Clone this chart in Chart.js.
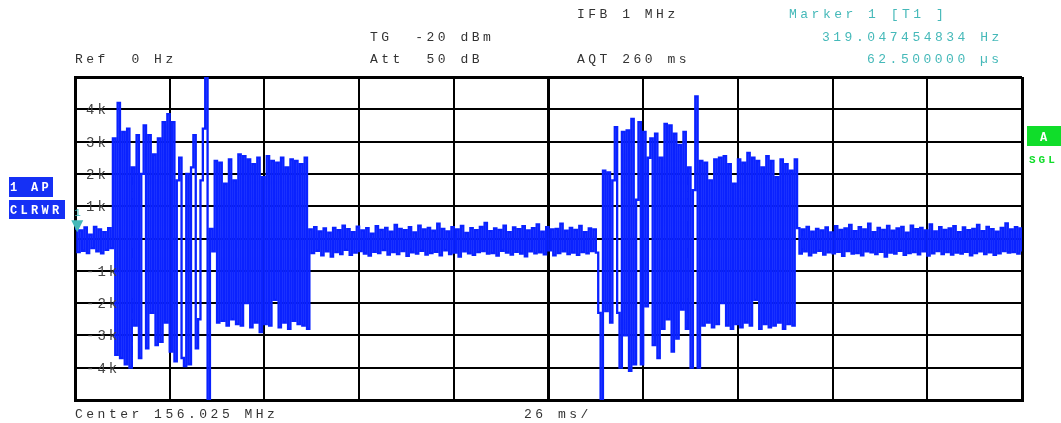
<!DOCTYPE html>
<html>
<head>
<meta charset="utf-8">
<title>Trace</title>
<script src="https://cdn.jsdelivr.net/npm/chart.js@4.4.1/dist/chart.umd.min.js"></script>
<style>
    html, body { margin: 0; padding: 0; background: #fff; }
    canvas { display: block; }
</style>
</head>
<body>
<canvas id="traceChart" width="1061" height="423"></canvas>
<script>
// Axe temps : 0 à 260 ms, un échantillon toutes les 0.65 ms
const sweepMs = 260;
const sampleStepMs = 0.65;
const xTickStepMs = 26;

// Valeurs (Hz), par segment
const noiseLead = [300, -420, 250, -380, 340, -450, 120, -300, 360, -400, 280, -460, 200, -350, 320, -300];

const burstOneA = [
    3100, -3600, 4200, -3700, 3300, -3900, 3400, -4000, 2200, -2700,
    3200, -3700, 2000, 3500, -3400, 3200, -2300, 2600, -3300, 3100,
    -3200, 3600, -2600, 3850, -3500, 3600, -3800, 1800, 2500, -3700,
    -3950, 2000, -3900, 2200, 3200, -3400, -2500, 1800, 3400, 5200,
    -5200
];

const burstOneB = [
    300, -400,
    2400, -2600, 2350, -2550, 1700, -2700, 2450, -2500, 1800, -2650,
    2600, -2700, 2550, -2000, 2450, -2750, 2300, -2600, 2500, -2900,
    1900, -2650, 2550, -2700, 2400, -1900, 2350, -2750, 2500, -2600,
    2200, -2800, 2450, -2550, 2400, -2650, 2300, -2700, 2500, -2800
];

const noiseMid = [
    280, -450, 350, -380, 220, -520, 310, -400, 180, -560,
    330, -420, 260, -480, 400, -350, 290, -510, 200, -440,
    370, -390, 250, -470, 320, -530, 150, -410, 380, -450,
    270, -360, 330, -500, 210, -420, 420, -480, 300, -390,
    260, -540, 350, -430, 190, -470, 400, -380, 280, -500,
    330, -450, 240, -410, 460, -520, 300, -370, 220, -480,
    350, -440, 280, -560, 390, -400, 170, -460, 320, -510,
    260, -420, 360, -390, 480, -470, 230, -450, 310, -530,
    270, -380, 400, -440, 200, -500, 340, -410, 290, -470,
    380, -550, 250, -400, 320, -460, 440, -430, 210, -490,
    350, -370, 280, -520, 300, -450, 460, -400, 240, -480,
    330, -440, 270, -510, 390, -420, 200, -460, 310, -390,
    280, -440
];

const burstTwoA = [
    -2300, -5200, 2100, -2250, 2050, -2600, 1800, 3450, -2300, -4000,
    3300, -3000, 3350, -4100, 3700, -3900, 1200, 3600, -3900, 3300,
    -2100, 2500, 3100, -3300, 3250, -3700, 2500, -2800, 3550, -2500,
    3500, -3500, 3250, -3100, 2900, -2200, 3300, -2800, 2200, -4000,
    1500, 4400, -4000
];

const burstTwoB = [
    2400, -2700, 2350, -2600, 1800, -2750, 2450, -2650, 2500, -2000,
    2550, -2700, 2300, -2800, 1700, -2650, 2450, -2750, 2350, -2600,
    2650, -2700, 2500, -1900, 2400, -2800, 2200, -2650, 2550, -2750,
    2400, -2700, 1900, -2600, 2450, -2800, 2300, -2650, 2100, -2700,
    2450
];

const noiseTail = [
    320, -470, 280, -400, 360, -520, 210, -440, 300, -380,
    250, -500, 340, -430, 190, -460, 380, -410, 270, -540,
    310, -390, 420, -470, 230, -450, 350, -520, 280, -400,
    460, -430, 200, -480, 330, -410, 270, -560, 390, -440,
    240, -470, 310, -380, 360, -510, 180, -450, 400, -420,
    290, -490, 330, -400, 250, -530, 440, -460, 220, -390,
    350, -480, 270, -420, 310, -500, 380, -440, 200, -470,
    340, -410, 260, -520, 300, -450, 420, -400, 230, -480,
    360, -430, 290, -510, 210, -460, 330, -390, 470, -440,
    280, -420, 350, -470, 310, -400
];

// Graduations de l'axe vertical
const yTickValues = [4000, 3000, 2000, 1000, -1000, -2000, -3000, -4000];
const yTickLabels = ['4k', '3k', '2k', '1k', '-1k', '-2k', '-3k', '-4k'];

// Marqueur 1
const markerTimeMs = 0.0625;
const markerValueHz = 319;

const traceValues = [].concat(noiseLead, burstOneA, burstOneB, noiseMid, burstTwoA, burstTwoB, noiseTail);
const tracePoints = traceValues.map((v, i) => ({ x: i * sampleStepMs, y: v }));

const TEXT_FONT = '13px "Liberation Mono", "DejaVu Sans Mono", monospace';
const TEAL = '#45b9b9';

function drawSpaced(ctx, text, x, y, font, color, spacing) {
    ctx.font = font;
    ctx.fillStyle = color;
    ctx.letterSpacing = spacing;
    ctx.textBaseline = 'alphabetic';
    ctx.textAlign = 'left';
    ctx.fillText(text, x, y);
    ctx.letterSpacing = '0px';
}

// Textes de l'analyseur autour de la grille
const overlayPlugin = {
    id: 'overlay',
    afterDraw(chart) {
        const ctx = chart.ctx;
        const yScale = chart.scales.y;
        const xScale = chart.scales.x;
        ctx.save();

        // en-tête
        drawSpaced(ctx, 'IFB 1 MHz', 577, 18, TEXT_FONT, '#333', '3.5px');
        drawSpaced(ctx, 'Marker 1 [T1 ]', 789, 18, TEXT_FONT, TEAL, '3.5px');
        drawSpaced(ctx, 'TG  -20 dBm', 370, 41, TEXT_FONT, '#333', '3.5px');
        drawSpaced(ctx, '319.047454834 Hz', 822, 41, TEXT_FONT, TEAL, '3.5px');
        drawSpaced(ctx, 'Ref  0 Hz', 75, 63, TEXT_FONT, '#333', '3.5px');
        drawSpaced(ctx, 'Att  50 dB', 370, 63, TEXT_FONT, '#333', '3.5px');
        drawSpaced(ctx, 'AQT 260 ms', 577, 63, TEXT_FONT, '#333', '3.5px');
        drawSpaced(ctx, '62.500000 \u00b5s', 867, 63, TEXT_FONT, TEAL, '3.5px');

        // pied
        drawSpaced(ctx, 'Center 156.025 MHz', 75, 418, TEXT_FONT, '#333', '3.5px');
        drawSpaced(ctx, '26 ms/', 524, 418, TEXT_FONT, '#333', '3.5px');

        // graduations verticales dans la grille
        yTickValues.forEach((v, i) => {
            const py = yScale.getPixelForValue(v);
            drawSpaced(ctx, yTickLabels[i], 86, py + 5, '14px "Liberation Mono", monospace', '#444', '3px');
        });

        // étiquettes de trace à gauche
        ctx.fillStyle = '#1530f5';
        ctx.fillRect(9, 177, 44, 20);
        ctx.fillRect(9, 200, 56, 19);
        const badgeFont = 'bold 12px "Liberation Mono", monospace';
        drawSpaced(ctx, '1 AP', 10, 191, badgeFont, '#fff', '3.3px');
        drawSpaced(ctx, 'CLRWR', 10, 214, badgeFont, '#fff', '3.3px');

        // état à droite
        ctx.fillStyle = '#10dd2a';
        ctx.fillRect(1027, 126, 34, 20);
        drawSpaced(ctx, 'A', 1040, 141, 'bold 12px "Liberation Mono", monospace', '#fff', '0px');
        drawSpaced(ctx, 'SGL', 1029, 163, 'bold 11px "Liberation Mono", monospace', '#10dd2a', '3px');

        // marqueur 1
        const mx = xScale.getPixelForValue(markerTimeMs) + 2;
        const my = yScale.getPixelForValue(markerValueHz) + 4;
        ctx.fillStyle = TEAL;
        ctx.beginPath();
        ctx.moveTo(mx - 6, my - 12);
        ctx.lineTo(mx + 6, my - 12);
        ctx.lineTo(mx, my);
        ctx.closePath();
        ctx.fill();
        drawSpaced(ctx, '1', mx - 3, my - 16, '11px "Liberation Mono", monospace', TEAL, '0px');

        ctx.restore();
    }
};

function gridWidth(ctx, edges, thick) {
    const v = ctx.tick ? ctx.tick.value : null;
    if (edges.includes(v)) return 3;
    if (v === thick) return 3;
    return 2;
}

new Chart(document.getElementById('traceChart'), {
    type: 'line',
    data: {
        datasets: [{
            data: tracePoints,
            borderColor: '#0a22ff',
            borderWidth: 2.3,
            pointRadius: 0,
            stepped: true,
            fill: false
        }]
    },
    options: {
        responsive: false,
        devicePixelRatio: 1,
        animation: false,
        events: [],
        layout: { padding: { left: 75, top: 77, right: 39, bottom: 23 } },
        plugins: {
            legend: { display: false },
            tooltip: { enabled: false }
        },
        scales: {
            x: {
                type: 'linear',
                min: 0,
                max: sweepMs,
                afterFit(scale) { scale.height = 0; },
                ticks: { display: false, stepSize: xTickStepMs },
                grid: {
                    color: '#000',
                    drawTicks: false,
                    lineWidth: (ctx) => gridWidth(ctx, [0, sweepMs], sweepMs / 2)
                },
                border: { display: true, color: '#000', width: 3 }
            },
            y: {
                min: -5000,
                max: 5000,
                afterFit(scale) { scale.width = 0; },
                ticks: { display: false, stepSize: 1000 },
                grid: {
                    color: '#000',
                    drawTicks: false,
                    lineWidth: (ctx) => gridWidth(ctx, [-5000, 5000], null)
                },
                border: { display: true, color: '#000', width: 3 }
            }
        }
    },
    plugins: [overlayPlugin]
});
</script>
</body>
</html>
